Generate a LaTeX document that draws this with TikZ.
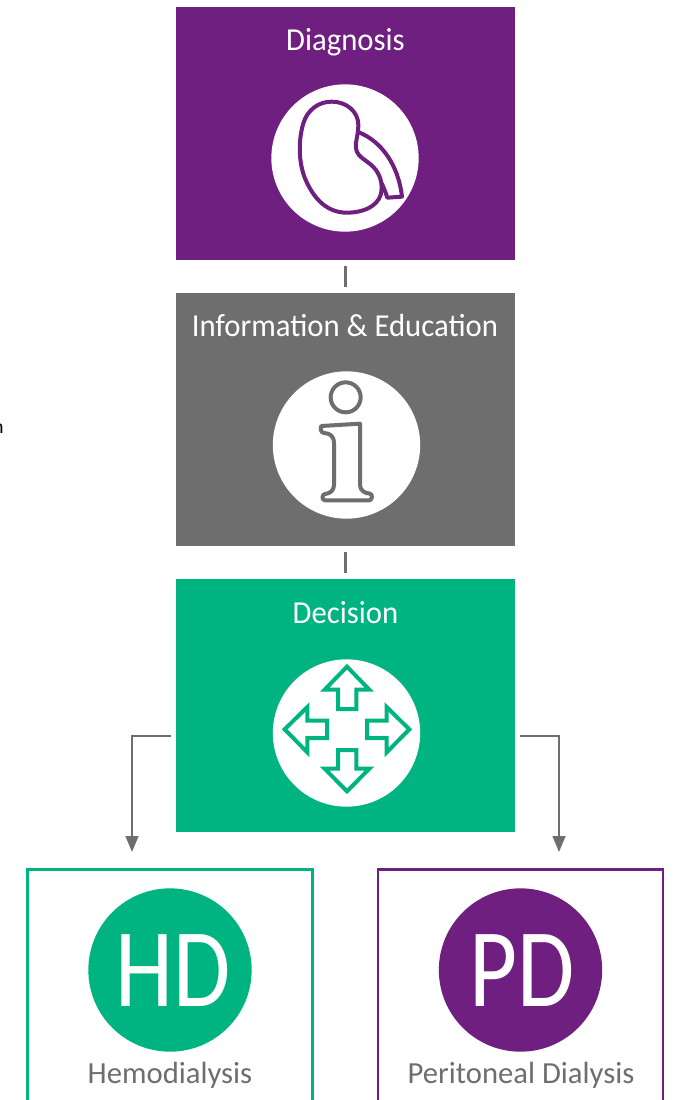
\documentclass[tikz,border=0pt]{standalone}
\usepackage{fontspec}
\setmainfont{Carlito}
\newfontfamily\bigfont[FakeStretch=0.83]{Carlito}
\newfontfamily\titlefont[FakeStretch=0.96]{Carlito}
\usetikzlibrary{arrows.meta}
\definecolor{cpurple}{HTML}{6E1F7F}
\definecolor{cgrey}{HTML}{6E6E6E}
\definecolor{cgreen}{HTML}{00B481}
\tikzset{x=0.75pt,y=-0.75pt,
 panel/.style={fill=#1,draw=none,minimum width=254.25pt,minimum height=189.75pt,inner sep=0pt},
 title/.style={text=white,font=\titlefont\fontsize{24}{26}\selectfont,inner sep=0pt,anchor=base},
 disc/.style={circle,fill=white,draw=none,minimum size=110.5pt,inner sep=0pt},
 tick/.style={draw=cgrey,line width=1.9pt,shorten >=4.5pt,shorten <=4.5pt},
 elbow/.style={draw=cgrey,line width=1.9pt,-{Triangle[length=12pt,width=9.5pt]}},
 outbox/.style={draw=#1,line width=1.9pt,fill=none,minimum width=213.5pt,minimum height=190pt,inner sep=0pt},
 badge/.style={circle,fill=#1,minimum size=122.5pt,inner sep=0pt,text=white},
 bigtext/.style={text=white,inner sep=0pt,font=\bigfont\fontsize{84}{84}\selectfont},
 caption/.style={text=cgrey,font=\fontsize{23}{25}\selectfont,inner sep=0pt},
 icon/.style={line width=#1,line join=round,line cap=round,fill=none}
}
\begin{document}
\begin{tikzpicture}
\clip (0,0) rectangle (675,1100);
\fill[white] (0,0) rectangle (675,1100);
% panels
\node[panel=cpurple] (diag) at (345.5,133.5) {};
\node[panel=cgrey] (info) at (345.5,419.5) {};
\node[panel=cgreen] (dec) at (345.5,705.5) {};
\node[title] (tdiag) at (345.5,50.5) {Diagnosis};
\node[title] (tinfo) at (345,336.5) {Information \& Education};
\node[title] (tdec) at (345.5,623) {Decision};
\node[disc] (d1) at (345,158) {};
\node[disc] (d2) at (346.5,445) {};
\node[disc] (d3) at (346.5,733) {};
% kidney
\begin{scope}[shift={(250,70)},x=0.25pt,y=-0.25pt]
\draw[icon=3pt,cpurple] (245,95) .. controls (290,95) and (325,125) .. (325,165)
 .. controls (325,195) and (315,215) .. (318,235)
 .. controls (322,265) and (355,270) .. (378,300)
 .. controls (395,325) and (398,350) .. (392,375)
 .. controls (380,410) and (340,428) .. (290,428)
 .. controls (230,428) and (190,385) .. (165,325)
 .. controls (145,275) and (145,210) .. (160,160)
 .. controls (172,120) and (205,95) .. (245,95) -- cycle;
\draw[icon=3pt,cpurple] (327,187) .. controls (395,215) and (445,285) .. (456,380)
 -- (412,383) .. controls (408,370) and (400,350) .. (395,340);
\end{scope}
% info i
\begin{scope}[shift={(250,360)},x=0.25pt,y=-0.25pt]
\draw[icon=3pt,cgrey] (287,112) circle[radius=45];
\draw[icon=3pt,cgrey] (214,198) -- (330,191) -- (330,375)
 .. controls (330,392) and (345,400) .. (360,401) .. controls (368,402) and (368,420) .. (358,421)
 -- (225,421) .. controls (215,421) and (215,403) .. (225,402)
 .. controls (240,400) and (252,392) .. (252,375) -- (252,250)
 .. controls (252,228) and (240,220) .. (222,219) .. controls (212,218) and (210,205) .. (214,198) -- cycle;
\end{scope}
% arrows icon
\begin{scope}[shift={(250,645)},x=0.25pt,y=-0.25pt]
\draw[icon=3pt,cgreen,line cap=butt,line join=miter] (291,65) -- (358,134) -- (319,134) -- (319,192) -- (264,192) -- (264,134) -- (224,134) -- cycle;
\draw[icon=3pt,cgreen,line cap=butt,line join=miter] (291,439) -- (358,371) -- (319,371) -- (319,315) -- (264,315) -- (264,371) -- (224,371) -- cycle;
\draw[icon=3pt,cgreen,line cap=butt,line join=miter] (104,253) -- (172,186) -- (172,227) -- (231,227) -- (231,279) -- (172,279) -- (172,322) -- cycle;
\draw[icon=3pt,cgreen,line cap=butt,line join=miter] (478,253) -- (410,186) -- (410,227) -- (351,227) -- (351,279) -- (410,279) -- (410,322) -- cycle;
\end{scope}
% connectors
\draw[tick] (diag.south) -- (info.north);
\draw[tick] (info.south) -- (dec.north);
% bottom boxes
\node[outbox=cgreen] (hd) at (170,996) {};
\node[outbox=cpurple] (pd) at (520.5,996) {};
\node[badge=cgreen] (hdb) at (170,970) {};
\node[badge=cpurple] (pdb) at (520.5,970) {};
\node[bigtext] (hdt) at (173,971) {HD};
\node[bigtext] (pdt) at (522,971) {PD};
\node[caption] (hdc) at (170,1075.5) {Hemodialysis};
\node[caption] (pdc) at (521,1075.5) {Peritoneal Dialysis};
\coordinate (lstart) at (171,736);
\coordinate (lend) at (132,852);
\coordinate (rstart) at (520,736);
\coordinate (rend) at (559,852);
\draw[elbow] (lstart) -| (lend);
\draw[elbow] (rstart) -| (rend);
% stray letter fragment at the left edge
\node[anchor=base east,inner sep=0pt,font=\fontsize{15}{15}\selectfont,text=black] (frag) at (4,433) {n};
\end{tikzpicture}
\end{document}
